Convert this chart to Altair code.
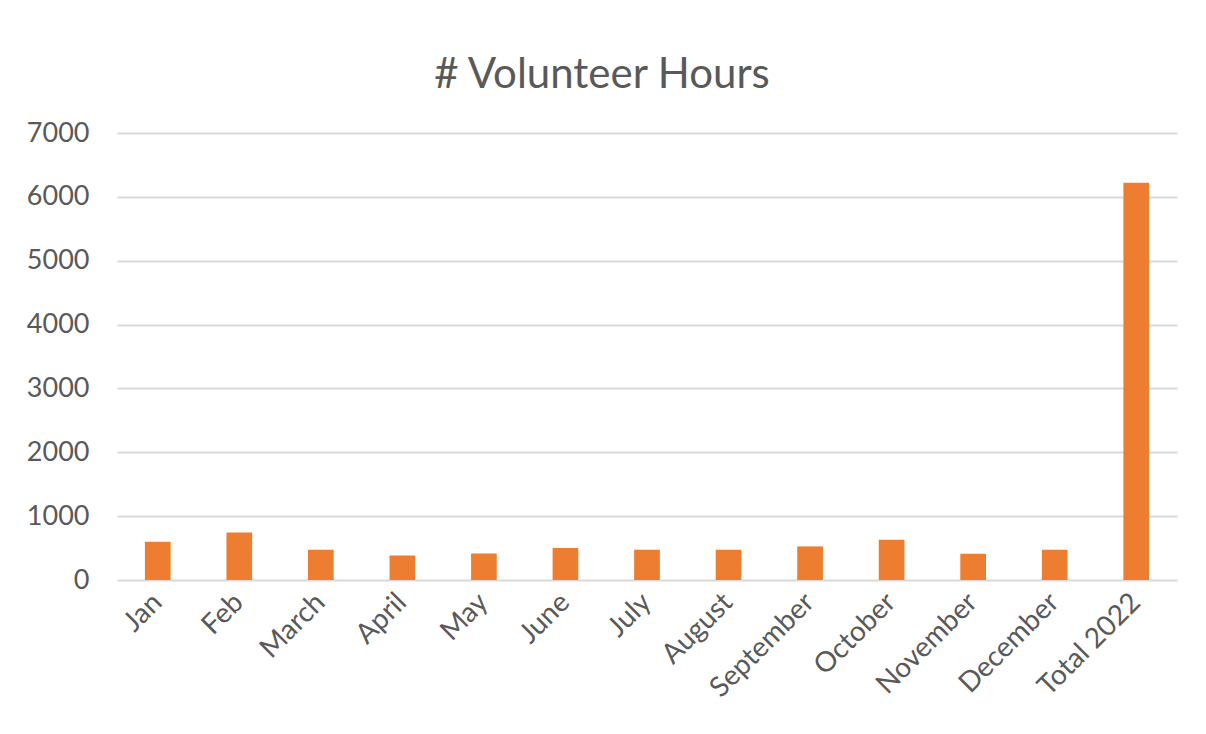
import altair as alt
import pandas as pd

categories = ["Jan", "Feb", "March", "April", "May", "June", "July", "August",
              "September", "October", "November", "December", "Total 2022"]
hours = [600, 742, 474, 384, 415, 500, 474, 474, 526, 632, 411, 474, 6220]

df = pd.DataFrame({"month": categories, "hours": hours})

FONT = "Lato"
GREY = "#595959"

chart = alt.Chart(df).mark_bar(color="#ed7d31").encode(
    x=alt.X("month:N", sort=categories,
            scale=alt.Scale(paddingInner=0.685, paddingOuter=0.3425),
            axis=alt.Axis(title=None, labelAngle=-45, labelFontSize=28,
                          labelColor=GREY, labelFont=FONT, ticks=False,
                          domain=False, labelPadding=18, labelAlign="right",
                          labelBaseline="middle", labelLimit=400)),
    y=alt.Y("hours:Q", scale=alt.Scale(domain=[0, 7000], nice=False),
            axis=alt.Axis(title=None, values=[0, 1000, 2000, 3000, 4000, 5000, 6000, 7000],
                          format="d",
                          labelFontSize=27, labelColor=GREY, labelFont=FONT,
                          ticks=False, domain=False, labelPadding=28,
                          gridColor="#d9d9d9", gridWidth=2)),
).properties(
    width=1060,
    height=447,
    title=alt.Title("# Volunteer Hours", fontSize=42, font=FONT, color=GREY,
                    fontWeight="normal", anchor="middle", dx=-45, offset=22),
    autosize=alt.AutoSizeParams(type="none"),
    padding={"left": 109, "top": 125, "right": 20, "bottom": 145},
).configure(background="white").configure_view(stroke=None)

chart.save("out.html", embed_options={"renderer": "svg", "actions": False})
